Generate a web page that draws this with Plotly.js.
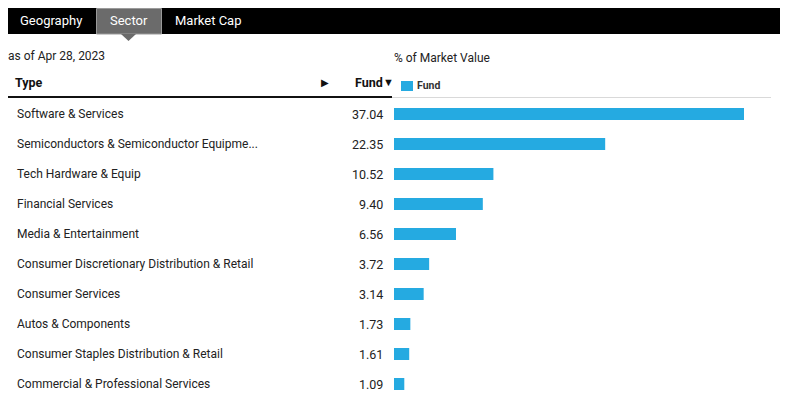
<!DOCTYPE html>
<html><head><meta charset="utf-8">
<script src="https://cdn.plot.ly/plotly-3.0.1.min.js"></script>
<style>html,body{margin:0;padding:0;background:#fff}#chart{width:790px;height:396px}</style>
</head><body><div id="chart"></div>
<script>
const categories = [
  "Software & Services",
  "Semiconductors & Semiconductor Equipme...",
  "Tech Hardware & Equip",
  "Financial Services",
  "Media & Entertainment",
  "Consumer Discretionary Distribution & Retail",
  "Consumer Services",
  "Autos & Components",
  "Consumer Staples Distribution & Retail",
  "Commercial & Professional Services"
];
const fundValues = [37.04, 22.35, 10.52, 9.40, 6.56, 3.72, 3.14, 1.73, 1.61, 1.09];
const tabs = ["Geography", "Sector", "Market Cap"];

const W = 790, H = 396;
const px = x => x / W;
const py = y => 1 - y / H;
const FONT = "Roboto, 'Liberation Sans', sans-serif";
const BLUE = "#25aae1";

const trace = {
  type: "bar", orientation: "h",
  x: fundValues, y: categories.map((c, i) => i),
  marker: {color: BLUE}, width: 0.4,
  hoverinfo: "skip", showlegend: false
};

const annotations = [];
const ann = (o) => Object.assign({showarrow: false, borderpad: 0, borderwidth: 0}, o);
categories.forEach((c, i) => {
  annotations.push(ann({xref: "paper", yref: "y", x: px(17), y: i, text: c,
    xanchor: "left", yanchor: "middle", yshift: 0, font: {family: FONT, size: 12, color: "#222"}}));
  annotations.push(ann({xref: "paper", yref: "y", x: px(383), y: i, text: fundValues[i].toFixed(2),
    xanchor: "right", yanchor: "middle", yshift: 0, font: {family: FONT, size: 12.5, color: "#222"}}));
});
// tabs
const tabX = [51, 129, 208];
tabs.forEach((t, i) => {
  annotations.push(ann({xref: "paper", yref: "paper", x: px(tabX[i]), y: py(21), text: t,
    xanchor: "center", yanchor: "middle", font: {family: FONT, size: 13, color: "#fff"}}));
});
annotations.push(ann({xref: "paper", yref: "paper", x: px(8), y: py(56), text: "as of Apr 28, 2023",
  xanchor: "left", yanchor: "middle", font: {family: FONT, size: 12, color: "#222"}}));
annotations.push(ann({xref: "paper", yref: "paper", x: px(394), y: py(58), text: "% of Market Value",
  xanchor: "left", yanchor: "middle", font: {family: FONT, size: 12, color: "#222"}}));
annotations.push(ann({xref: "paper", yref: "paper", x: px(15), y: py(83), text: "<b>Type</b>",
  xanchor: "left", yanchor: "middle", font: {family: FONT, size: 12.5, color: "#111"}}));
annotations.push(ann({xref: "paper", yref: "paper", x: px(325), y: py(83), text: "▶",
  xanchor: "center", yanchor: "middle", font: {family: FONT, size: 10, color: "#111"}}));
annotations.push(ann({xref: "paper", yref: "paper", x: px(383), y: py(83), text: "<b>Fund</b>",
  xanchor: "right", yanchor: "middle", font: {family: FONT, size: 12.5, color: "#111"}}));
annotations.push(ann({xref: "paper", yref: "paper", x: px(382.5), y: py(83), text: "▼",
  xanchor: "left", yanchor: "middle", font: {family: FONT, size: 11, color: "#111"}}));
annotations.push(ann({xref: "paper", yref: "paper", x: px(417), y: py(86), text: "<b>Fund</b>",
  xanchor: "left", yanchor: "middle", font: {family: FONT, size: 10.5, color: "#333"}}));

const shapes = [
  {type: "rect", xref: "paper", yref: "paper", x0: px(8), x1: px(780), y0: py(34), y1: py(8), fillcolor: "#000", line: {width: 0}, layer: "below"},
  {type: "rect", xref: "paper", yref: "paper", x0: px(96.5), x1: px(161.5), y0: py(34), y1: py(8.5), fillcolor: "#6b6b6b", line: {width: 1, color: "#9a9a9a"}, layer: "below"},
  {type: "path", xref: "paper", yref: "paper",
    path: `M ${px(121)} ${py(34)} L ${px(136)} ${py(34)} L ${px(128.5)} ${py(41)} Z`, fillcolor: "#6b6b6b", line: {width: 0}},
  {type: "line", xref: "paper", yref: "paper", x0: px(8), x1: px(392), y0: py(97), y1: py(97), line: {width: 2, color: "#111"}},
  {type: "line", xref: "paper", yref: "paper", x0: px(392), x1: px(771), y0: py(97.5), y1: py(97.5), line: {width: 1, color: "#d9d9d9"}},
  {type: "rect", xref: "paper", yref: "paper", x0: px(401), x1: px(413), y0: py(91), y1: py(81), fillcolor: BLUE, line: {width: 0}}
];

const layout = {
  width: W, height: H,
  margin: {l: 0, r: 0, t: 0, b: 0},
  paper_bgcolor: "#fff", plot_bgcolor: "#fff",
  xaxis: {domain: [px(394), px(771)], range: [0, 37.04 * 377 / 350], visible: false, fixedrange: true},
  yaxis: {domain: [0, py(99)], range: [9.4, -0.5], visible: false, fixedrange: true},
  annotations, shapes, showlegend: false
};

Plotly.newPlot("chart", [trace], layout, {displayModeBar: false, staticPlot: true});
</script></body></html>
